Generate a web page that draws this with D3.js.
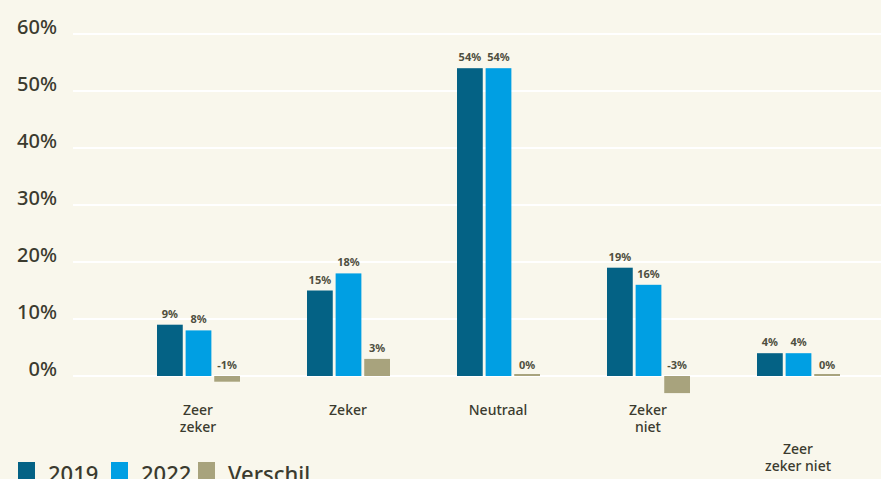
<!DOCTYPE html>
<html>
<head>
<meta charset="UTF-8">
<title></title>
<style type="text/css">
	body { margin: 0; background: #f9f7ec; }
	svg { display: block; font-family: "Noto Sans", sans-serif; }
</style>
</head>
<body>
<svg class="chart"></svg>
<script src="https://cdn.jsdelivr.net/npm/d3@7/dist/d3.min.js"></script>
<script type="text/javascript">
	var categories = [["Zeer", "zeker"], ["Zeker"], ["Neutraal"], ["Zeker", "niet"], ["Zeer", "zeker niet"]];
	var series = ["2019", "2022", "Verschil"];
	var v2019 = [9, 15, 54, 19, 4];
	var v2022 = [8, 18, 54, 16, 4];
	var verschil = [-1, 3, 0, -3, 0];
	var yTicks = [0, 10, 20, 30, 40, 50, 60];
	var colors = ["#046285", "#009fe3", "#a8a37d"];

	var width = 881, height = 479;
	var svg = d3.select(".chart").attr("width", width).attr("height", height);
	svg.append("rect").attr("width", width).attr("height", height).attr("fill", "#f9f7ec");

	var y = d3.scaleLinear().domain([0, 60]).range([376, 34]);
	var x0 = d3.scaleBand().domain(d3.range(categories.length)).range([123, 873]);
	var x1 = d3.scaleBand().domain(series).range([34, 117]).paddingInner(0.1);

	// gridlines + y labels
	var g_grid = svg.append("g");
	g_grid.selectAll("line").data(yTicks).enter().append("line")
		.attr("x1", 73).attr("x2", width)
		.attr("y1", function(d) { return y(d); })
		.attr("y2", function(d) { return y(d); })
		.attr("stroke", "#ffffff").attr("stroke-width", 2);
	g_grid.selectAll("text").data(yTicks).enter().append("text")
		.attr("x", 57).attr("y", function(d) { return y(d); })
		.attr("text-anchor", "end")
		.attr("font-size", 20).attr("font-weight", 500)
		.attr("fill", "#3b3b2f")
		.text(function(d) { return d + "%"; });

	var values = [v2019, v2022, verschil];
	var rows = [];
	categories.forEach(function(c, i) {
		series.forEach(function(s, j) {
			rows.push({ cat: i, s: s, j: j, v: values[j][i] });
		});
	});

	var g_bars = svg.append("g");
	g_bars.selectAll("rect").data(rows).enter().append("rect")
		.attr("x", function(d) { return x0(d.cat) + x1(d.s); })
		.attr("width", x1.bandwidth())
		.attr("y", function(d) { return d.v === 0 ? y(0) - 2 : Math.min(y(d.v), y(0)); })
		.attr("height", function(d) { return d.v === 0 ? 2 : Math.abs(y(d.v) - y(0)); })
		.attr("fill", function(d) { return colors[d.j]; });

	g_bars.selectAll("text").data(rows).enter().append("text")
		.attr("x", function(d) { return x0(d.cat) + x1(d.s) + x1.bandwidth() / 2; })
		.attr("y", function(d) { return Math.min(y(d.v), y(0)) - 7; })
		.attr("text-anchor", "middle")
		.attr("font-size", 11).attr("font-weight", 700)
		.attr("fill", "#4f4f3f")
		.text(function(d) { return d.v + "%"; });

	// category labels
	var g_cat = svg.append("g");
	categories.forEach(function(lines, i) {
		var base = i === 4 ? 454 : 415;
		var t = g_cat.append("text")
			.attr("x", x0(i) + x0.bandwidth() / 2)
			.attr("y", base)
			.attr("text-anchor", "middle")
			.attr("font-size", 14).attr("font-weight", 500)
			.attr("fill", "#3b3b2f");
		lines.forEach(function(l, k) {
			t.append("tspan").attr("x", x0(i) + x0.bandwidth() / 2)
				.attr("dy", k === 0 ? 0 : 17).text(l);
		});
	});

	// legend
	var legX = [18, 111, 198];
	var g_leg = svg.append("g");
	series.forEach(function(s, j) {
		g_leg.append("rect").attr("x", legX[j]).attr("y", 462)
			.attr("width", 17).attr("height", 17).attr("fill", colors[j]);
		g_leg.append("text").attr("x", legX[j] + 30).attr("y", 482)
			.attr("font-size", 22).attr("font-weight", 500)
			.attr("fill", "#3b3b2f").text(s);
	});
</script>
</body>
</html>
